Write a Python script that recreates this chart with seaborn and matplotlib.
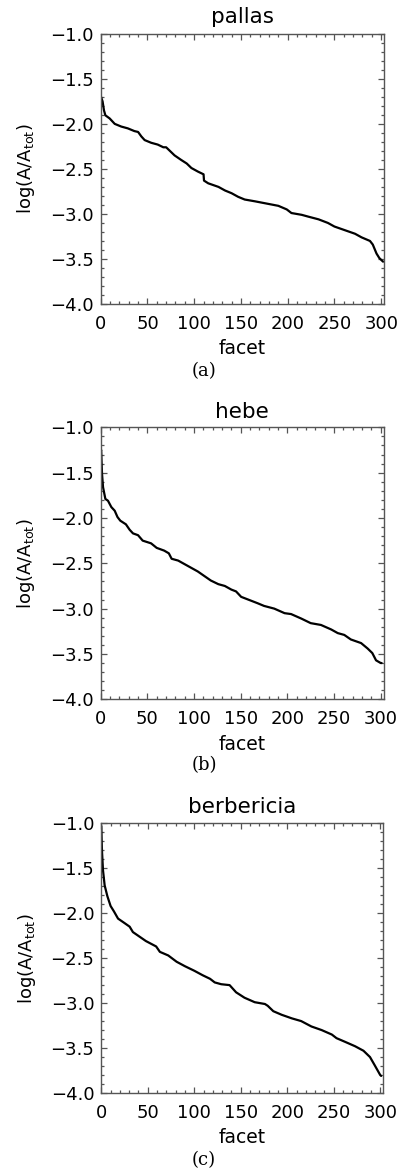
import matplotlib
matplotlib.use("Agg")
import matplotlib.pyplot as plt
from matplotlib.ticker import MultipleLocator
import seaborn as sns
import pandas as pd

# ---- data (facet index vs log(A/A_tot)) ----
pallas_facet = [0, 1, 2, 3.5, 5, 9.6, 15, 22, 29, 36, 40, 43.5, 47, 54, 61, 67, 70, 74, 79, 86,
                92, 97, 104, 110, 110.5, 115, 126, 133, 140, 147, 154, 165, 175, 190, 199, 204,
                215, 222, 233, 243, 250, 261, 272, 279, 288, 291, 295, 298, 302]
pallas_logA = [-1.69, -1.72, -1.75, -1.85, -1.905, -1.94, -2.00, -2.03, -2.05, -2.08, -2.09, -2.14,
               -2.18, -2.21, -2.23, -2.26, -2.26, -2.30, -2.35, -2.40, -2.44, -2.49, -2.53, -2.56,
               -2.63, -2.66, -2.70, -2.74, -2.77, -2.81, -2.84, -2.86, -2.88, -2.91, -2.95, -2.99,
               -3.01, -3.03, -3.06, -3.10, -3.14, -3.18, -3.22, -3.26, -3.30, -3.34, -3.44, -3.49,
               -3.53]

hebe_facet = [0, 0.5, 1.4, 2.5, 5, 7.8, 11.4, 15, 18, 21, 27, 31, 34.6, 40, 45, 54, 60, 68, 73, 76,
              83, 90, 97, 104, 111, 118, 126, 133, 140, 145, 150.5, 158, 168, 175, 186, 197, 204,
              215, 225, 236, 247, 254, 261, 268, 279, 286, 291, 295, 300, 301]
hebe_logA = [-1.27, -1.25, -1.51, -1.66, -1.79, -1.81, -1.88, -1.92, -1.99, -2.03, -2.07, -2.13,
             -2.17, -2.19, -2.25, -2.28, -2.33, -2.36, -2.39, -2.45, -2.47, -2.51, -2.55, -2.59,
             -2.64, -2.69, -2.73, -2.75, -2.79, -2.81, -2.87, -2.90, -2.94, -2.97, -3.00, -3.05,
             -3.06, -3.11, -3.16, -3.18, -3.23, -3.27, -3.29, -3.34, -3.38, -3.44, -3.49, -3.57,
             -3.60, -3.60]

berbericia_facet = [0, 0.7, 1.8, 3.6, 6.5, 10, 13.6, 18, 25, 30.5, 34, 41, 48, 59, 63, 72, 81, 90,
                    100, 109, 117, 122, 129, 138, 145, 154, 165, 176, 179, 185, 194, 205, 215, 226,
                    237, 248, 253, 262, 273, 282, 289, 294, 300, 301]
berbericia_logA = [-1.03, -1.30, -1.52, -1.69, -1.81, -1.92, -1.98, -2.06, -2.11, -2.15, -2.21,
                   -2.26, -2.31, -2.37, -2.43, -2.47, -2.54, -2.59, -2.64, -2.69, -2.73, -2.77,
                   -2.79, -2.80, -2.88, -2.94, -2.99, -3.01, -3.03, -3.09, -3.13, -3.17, -3.20,
                   -3.26, -3.30, -3.35, -3.39, -3.43, -3.48, -3.53, -3.60, -3.69, -3.80, -3.81]

titles = ["pallas", "hebe", "berbericia"]
captions = ["(a)", "(b)", "(c)"]
x_ticks = [0, 50, 100, 150, 200, 250, 300]
y_ticks = [-1.0, -1.5, -2.0, -2.5, -3.0, -3.5, -4.0]

series = [(pallas_facet, pallas_logA), (hebe_facet, hebe_logA),
          (berbericia_facet, berbericia_logA)]

sns.set_theme(style="ticks")
plt.rcParams["font.family"] = ["DejaVu Sans"]
plt.rcParams["mathtext.fontset"] = "dejavusans"

W, H = 400, 1174
fig = plt.figure(figsize=(W / 100, H / 100), dpi=100)
fig.patch.set_facecolor("white")

# axes boxes in pixels: (left, top, right, bottom)
boxes = [(100.7, 33.8, 384, 304), (100.7, 427.3, 383.5, 699.3), (101.3, 823.3, 383, 1093)]
title_y = [17, 412, 807]
caption_y = [371, 765, 1160]

spine_col = "#555555"
for i, ((fx, fy), (l, t, r, b)) in enumerate(zip(series, boxes)):
    ax = fig.add_axes([l / W, 1 - b / H, (r - l) / W, (b - t) / H])
    df = pd.DataFrame({"facet": fx, "logA": fy})
    sns.lineplot(data=df, x="facet", y="logA", ax=ax, color="black", linewidth=1.6,
                 estimator=None, sort=True)
    ax.set_xlim(0, 303)
    ax.set_ylim(-4.0, -1.0)
    ax.set_xticks(x_ticks)
    ax.set_xticklabels([str(v) for v in x_ticks])
    ax.set_yticks(y_ticks)
    ax.set_yticklabels([f"\u2212{abs(v):.1f}" for v in y_ticks])
    ax.xaxis.set_minor_locator(MultipleLocator(10))
    ax.yaxis.set_minor_locator(MultipleLocator(0.1))
    ax.tick_params(which="both", direction="in", top=True, right=True, color=spine_col,
                   width=0.9, labelsize=13, labelcolor="black")
    ax.tick_params(which="major", length=4)
    ax.tick_params(which="minor", length=2.2)
    ax.tick_params(axis="x", which="major", pad=8)
    ax.tick_params(axis="y", which="major", pad=5)
    for s in ax.spines.values():
        s.set_color(spine_col)
        s.set_linewidth(1.0)
    ax.set_xlabel("facet", fontsize=13.5, color="black")
    ax.set_ylabel(r"log(A/A$_{\mathrm{tot}}$)", fontsize=13, color="black")
    ax.xaxis.set_label_coords(0.5, -0.13)
    ax.yaxis.set_label_coords(-0.225, 0.5)
    fig.text((l + r) / 2 / W, 1 - title_y[i] / H, titles[i], ha="center", va="center",
             fontsize=15.5, color="black")
    fig.text(204 / W, 1 - caption_y[i] / H, captions[i], ha="center", va="center",
             fontsize=13, family="DejaVu Serif", color="black")

fig.savefig("out.png", dpi=100, facecolor="white")
